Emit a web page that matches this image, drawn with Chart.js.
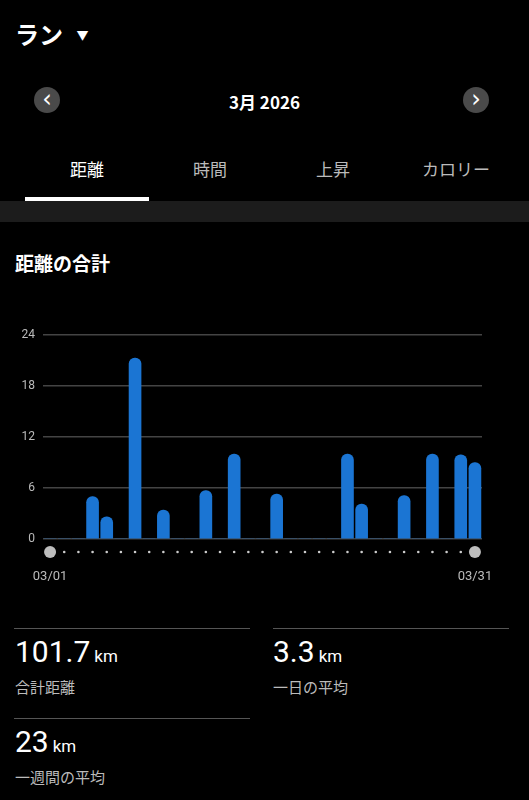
<!DOCTYPE html>
<html>
<head>
<meta charset="utf-8">
<script src="https://cdn.jsdelivr.net/npm/chart.js@4"></script>
<style>
  body { margin: 0; width: 529px; height: 800px; background: #000; color: #fff; font-family: "Noto Sans CJK JP", Roboto, sans-serif; position: relative; overflow: hidden; }
  .abs { position: absolute; }
  .nav { width: 26px; height: 26px; border-radius: 13px; background: #4a4a4a; top: 87px; }
  .nav span { display: block; text-align: center; line-height: 24px; font-size: 24px; font-family: "DejaVu Sans"; }
  .tab { top: 156px; font-size: 17px; color: #bbb; width: 124px; text-align: center; }
  .line { height: 1px; background: #555; }
  .big { font-family: Roboto, sans-serif; font-size: 30px; }
  .big small { font-size: 17px; margin-left: 4px; }
  .lbl { font-size: 15px; color: #bbb; }
</style>
</head>
<body>
<div class="abs" style="left:15px;top:16px;font-size:24px;font-weight:bold;">ラン <span style="font-size:12px;margin-left:8px;vertical-align:4px;">▼</span></div>
<div class="abs nav" style="left:34px;"><span>‹</span></div>
<div class="abs nav" style="left:463px;"><span>›</span></div>
<div class="abs" style="left:0;width:529px;top:89px;text-align:center;font-size:17px;font-weight:bold;">3月 2026</div>
<div class="abs tab" style="left:25px;color:#fff;">距離</div>
<div class="abs tab" style="left:148px;">時間</div>
<div class="abs tab" style="left:271px;">上昇</div>
<div class="abs tab" style="left:394px;">カロリー</div>
<div class="abs" style="left:25px;top:197px;width:124px;height:4px;background:#fff;"></div>
<div class="abs" style="left:0;top:201px;width:529px;height:21px;background:#1c1c1c;"></div>
<div class="abs" style="left:15px;top:249px;font-size:19px;font-weight:bold;">距離の合計</div>
<div class="abs" style="left:0;top:320px;width:529px;height:270px;"><canvas id="distChart"></canvas></div>
<div class="abs line" style="left:14px;top:628px;width:236px;"></div>
<div class="abs line" style="left:273px;top:628px;width:236px;"></div>
<div class="abs big" style="left:15px;top:634px;">101.7<small>km</small></div>
<div class="abs lbl" style="left:15px;top:676px;">合計距離</div>
<div class="abs big" style="left:273px;top:634px;">3.3<small>km</small></div>
<div class="abs lbl" style="left:273px;top:676px;">一日の平均</div>
<div class="abs line" style="left:14px;top:718px;width:236px;"></div>
<div class="abs big" style="left:15px;top:724px;">23<small>km</small></div>
<div class="abs lbl" style="left:15px;top:766px;">一週間の平均</div>
<script>
// Daily distance (km), March 2026
const days = Array.from({length: 31}, (_, i) => '03/' + String(i + 1).padStart(2, '0'));
const distances = [0, 0, 0, 5.0, 2.6, 0, 21.3, 0, 3.4, 0, 0, 5.7, 0, 10.0, 0, 0, 5.3, 0, 0, 0, 0,
    10.0, 4.1, 0, 0, 5.1, 0, 10.0, 0, 9.9, 9.0];
const yTicks = [0, 6, 12, 18, 24];

// Dots under the axis and the first/last date labels
const dotsPlugin = {
    id: 'dots',
    afterDraw(chart) {
        const ctx = chart.ctx;
        const x = chart.scales.x;
        const y = chart.chartArea.bottom + 13;
        ctx.save();
        days.forEach((d, i) => {
            const px = x.getPixelForValue(i);
            const big = i === 0 || i === days.length - 1;
            ctx.fillStyle = big ? '#bdbdbd' : '#cccccc';
            ctx.beginPath();
            ctx.arc(px, y, big ? 6 : 1.3, 0, Math.PI * 2);
            ctx.fill();
        });
        ctx.fillStyle = '#bbb';
        ctx.font = '13px Roboto';
        ctx.textAlign = 'center';
        ctx.fillText(days[0], x.getPixelForValue(0), y + 28);
        ctx.fillText(days[30], x.getPixelForValue(30), y + 28);
        ctx.restore();
    }
};

new Chart(document.getElementById('distChart').getContext('2d'), {
    type: 'bar',
    data: {
        labels: days,
        datasets: [{
            data: distances,
            backgroundColor: '#1b75d3',
            barThickness: 12,
            borderRadius: { topLeft: 6, topRight: 6 },
            borderSkipped: 'bottom'
        }]
    },
    options: {
        responsive: true,
        maintainAspectRatio: false,
        animation: false,
        layout: { padding: { top: 12, right: 47, bottom: 43, left: 0 } },
        plugins: { legend: { display: false }, tooltip: { enabled: false } },
        scales: {
            y: {
                min: 0,
                max: 24,
                afterBuildTicks: s => { s.ticks = yTicks.map(v => ({ value: v })); },
                afterFit: s => { s.width = 43; },
                border: { display: false },
                grid: { color: '#444', lineWidth: 1.5, drawTicks: false },
                ticks: { color: '#bbb', font: { size: 12, family: 'Roboto' }, padding: 8 }
            },
            x: {
                offset: true,
                border: { display: false },
                grid: { display: false },
                ticks: { display: false }
            }
        }
    },
    plugins: [dotsPlugin]
});
</script>
</body>
</html>
